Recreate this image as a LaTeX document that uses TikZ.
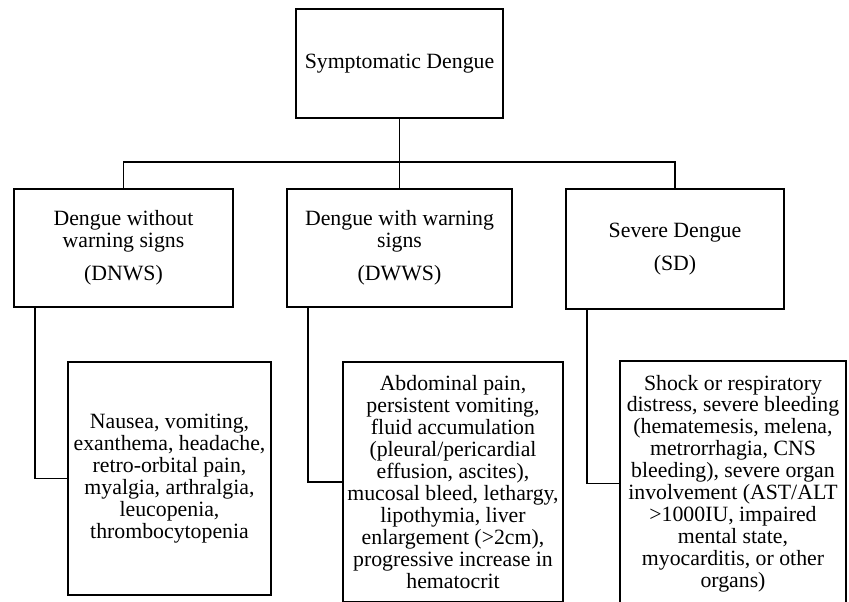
\documentclass[tikz,border=0pt]{standalone}
\usepackage{fontspec}
\setmainfont{Liberation Serif}
\usetikzlibrary{positioning,calc}

\begin{document}
\begin{tikzpicture}[x=0.025cm, y=-0.025cm, line width=1.1pt,
	box/.style={draw, align=center, inner sep=0pt, font=\fontsize{15.5}{15.6}\selectfont}]
\def\pw{0.025cm}
\clip (0,0) rectangle (849,601);

% top of the tree
\node [box, minimum width=207*\pw, minimum height=109*\pw] (top) at (399.5,63.5) {Symptomatic Dengue};
\coordinate (bus) at (399.5,162);

% the three classes
\node [box, minimum width=219*\pw, minimum height=118*\pw] (dnws) at (123.5,248) {Dengue without\\warning signs\\[7.8pt](DNWS)};
\node [box, minimum width=225*\pw, minimum height=118*\pw] (dwws) at (399.5,248) {Dengue with warning\\signs\\[7.8pt](DWWS)};
\node [box, minimum width=218*\pw, minimum height=120*\pw] (sd) at (675,249) {Severe Dengue\\[7.8pt](SD)};

% the signs of each class
\node [box, minimum width=203*\pw, minimum height=233*\pw] (signsdnws) at (169.5,478.5) {Nausea, vomiting,\\exanthema, headache,\\retro-orbital pain,\\myalgia, arthralgia,\\leucopenia,\\thrombocytopenia};
\node [box, minimum width=220*\pw, minimum height=240*\pw] (signsdwws) at (453,482) {Abdominal pain,\\persistent vomiting,\\fluid accumulation\\(pleural/pericardial\\effusion, ascites),\\mucosal bleed, lethargy,\\lipothymia, liver\\enlargement (>2cm),\\progressive increase in\\hematocrit};
\node [box, minimum width=226*\pw, minimum height=245*\pw] (signssd) at (733,483.5) {Shock or respiratory\\distress, severe bleeding\\(hematemesis, melena,\\metrorrhagia, CNS\\bleeding), severe organ\\involvement (AST/ALT\\>1000IU, impaired\\mental state,\\myocarditis, or other\\organs)};

\draw (top) -- (bus);
\draw (dnws.north) |- (bus) -| (sd.north);
\draw (bus) -- (dwws.north);

\draw ([xshift=22*\pw]dnws.south west) |- (signsdnws);
\draw ([xshift=22*\pw]dwws.south west) |- (signsdwws);
\draw ([xshift=22*\pw]sd.south west) |- (signssd);

\end{tikzpicture}
\end{document}
